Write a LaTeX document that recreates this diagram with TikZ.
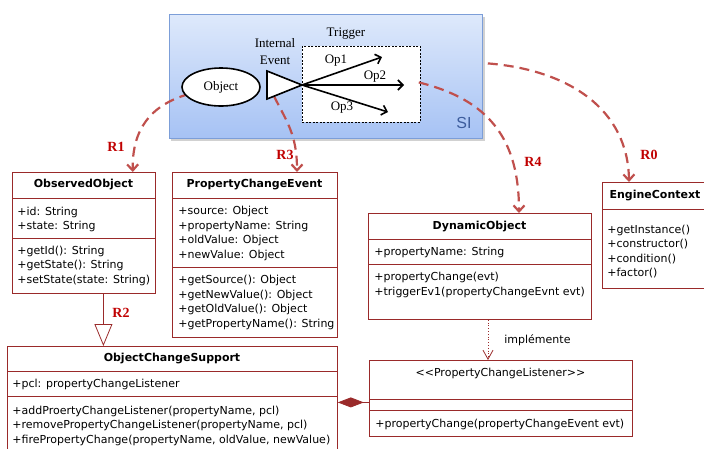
\documentclass[tikz,border=0pt]{standalone}
\usepackage{fontspec}
\setmainfont{Liberation Serif}
\newfontfamily\umlfont{DejaVu Sans}
\newfontfamily\sifont{Liberation Sans}
\usetikzlibrary{arrows.meta, positioning, calc, shapes.geometric}
\definecolor{umlRed}{HTML}{9A2A2A}
\definecolor{relRed}{HTML}{C0504D}
\definecolor{relText}{HTML}{C00000}
\definecolor{siTop}{HTML}{DEE9FB}
\definecolor{siBot}{HTML}{A6C2F4}
\definecolor{siLine}{HTML}{7C9ED8}
\definecolor{siText}{HTML}{3C5C9C}
\newcommand\umltxt{\umlfont\fontsize{11}{14.5}\selectfont}

\begin{document}
\begin{tikzpicture}[x=1pt, y=-1pt, thick,
    umlbox/.style={draw=umlRed, line width=0.8pt, anchor=north west, inner sep=0pt},
    umltitle/.style={font=\umltxt\bfseries, inner sep=0pt},
    umltext/.style={font=\umltxt, align=left, anchor=north west, inner sep=0pt},
    umlsep/.style={umlRed, line width=0.8pt},
    relation/.style={relRed, line width=2.2pt, dash pattern=on 10pt off 6pt,
                     -{Straight Barb[length=6pt, width=11pt]}},
    rellabel/.style={text=relText, font=\fontsize{14}{16}\selectfont\bfseries},
    oparrow/.style={line width=1.6pt, -{Straight Barb[length=5pt, width=10pt]}},
    serif/.style={font=\fontsize{13}{17}\selectfont, inner sep=0pt}]
  \useasboundingbox (0,0) rectangle (704,448);
  \clip (0,0) rectangle (704,448);

  % SI block with the trigger
  \fill[black!18] (171,17) rectangle (485,141);
  \node[draw=siLine, top color=siTop, bottom color=siBot, line width=0.8pt,
        minimum width=313pt, minimum height=124pt, anchor=north west,
        inner sep=0pt] (si) at (169,14) {};
  \node[font=\sifont\fontsize{16}{16}\selectfont, text=siText] (silabel) at (464,123) {SI};
  \node[draw, dash pattern=on 2pt off 1.5pt, line width=0.8pt, fill=white,
        minimum width=118pt, minimum height=76pt, anchor=north west,
        inner sep=0pt] (trig) at (302,46) {};
  \node[serif] (triglabel) at (346,34) {Trigger};
  \node[serif, align=center] (evtlabel) at (275,52) {Internal\\Event};

  % ObservedObject
  \node[umlbox, minimum width=143pt, minimum height=121pt] (obs) at (12,172) {};
  \node[umltitle] (obstitle) at (83.5,185) {ObservedObject};
  \draw[umlsep] (12,198) -- (155,198);
  \draw[umlsep] (12,238) -- (155,238);
  \node[umltext] (obsattr) at (17,206.5) {+id: String\\+state: String};
  \node[umltext] (obsops) at (17,245.5)
    {+getId(): String\\+getState(): String\\+setState(state: String)};

  % PropertyChangeEvent
  \node[umlbox, minimum width=165pt, minimum height=165pt] (pce) at (172,172) {};
  \node[umltitle] (pcetitle) at (254.5,185) {PropertyChangeEvent};
  \draw[umlsep] (172,198) -- (337,198);
  \draw[umlsep] (172,267) -- (337,267);
  \node[umltext] (pceattr) at (178,206)
    {+source: Object\\+propertyName: String\\+oldValue: Object\\+newValue: Object};
  \node[umltext] (pceops) at (178,275)
    {+getSource(): Object\\+getNewValue(): Object\\+getOldValue(): Object\\+getPropertyName(): String};

  % DynamicObject
  \node[umlbox, minimum width=223pt, minimum height=106pt] (dyn) at (368,213) {};
  \node[umltitle] (dyntitle) at (479.5,226.5) {DynamicObject};
  \draw[umlsep] (368,239) -- (591,239);
  \draw[umlsep] (368,264) -- (591,264);
  \node[umltext] (dynattr) at (374,247) {+propertyName: String};
  \node[umltext] (dynops) at (374,272)
    {+propertyChange(evt)\\+triggerEv1(propertyChangeEvnt evt)};

  % EngineContext
  \node[umlbox, minimum width=122pt, minimum height=106pt] (eng) at (602,182) {};
  \node[umltitle] (engtitle) at (655,196) {EngineContext};
  \draw[umlsep] (602,209) -- (724,209);
  \node[umltext] (engops) at (607,224.5)
    {+getInstance()\\+constructor()\\+condition()\\+factor()};

  % ObjectChangeSupport
  \node[umlbox, minimum width=330pt, minimum height=120pt] (ocs) at (7,346) {};
  \node[umltitle] (ocstitle) at (172,358.5) {ObjectChangeSupport};
  \draw[umlsep] (7,371) -- (337,371);
  \draw[umlsep] (7,396) -- (337,396);
  \node[umltext] (ocsattr) at (12,379) {+pcl: propertyChangeListener};
  \node[umltext] (ocsops) at (12,405.5)
    {+addProertyChangeListener(propertyName, pcl)\\+removePropertyChangeListener(propertyName, pcl)\\+firePropertyChange(propertyName, oldValue, newValue)};

  % PropertyChangeListener
  \node[umlbox, minimum width=263pt, minimum height=76pt] (pcl) at (369,360) {};
  \node[font=\umltxt, inner sep=0pt] (pcltitle) at (500.5,373) {<{}<PropertyChangeListener>{}>};
  \draw[umlsep] (369,399) -- (632,399);
  \draw[umlsep] (369,410) -- (632,410);
  \node[umltext] (pclops) at (375,419) {+propertyChange(propertyChangeEvent evt)};

  % relations leaving the SI block (drawn under the shapes)
  \coordinate (evt-a) at (267,71);
  \coordinate (evt-b) at (267,99);
  \coordinate (evt) at (302,85);
  \draw[relation] (189,94)
    .. controls (150,105) and (132,130) .. ($(obs.north east)+(-23,0)$);
  \draw[relation] ($(evt-b)!0.2!(evt)$)
    .. controls (287,122) and (297,135) .. ($(pce.north west)+(125,0)$);
  \draw[relation] ($(trig.east)+(-2,-2)$)
    .. controls (490,100) and (519,140) .. ($(dyn.north west)+(151,0)$);
  \draw[relation] ($(si.east)+(5,-13)$)
    .. controls (570,70) and (628,110) .. ($(eng.north west)+(27,0)$);

  \node[rellabel] (r1) at (116,147) {R1};
  \node[rellabel] (r3) at (285,155) {R3};
  \node[rellabel] (r4) at (533,162) {R4};
  \node[rellabel] (r0) at (649,155) {R0};

  % object and internal event
  \node[draw, ellipse, line width=1.6pt, fill=white, minimum width=78pt,
        minimum height=38pt, inner sep=0pt, font=\fontsize{13}{15}\selectfont]
        (obj) at (221,87) {Object};
  \draw[line width=1.6pt, fill=white] (evt-a) -- (evt) -- (evt-b) -- cycle;

  \coordinate (op1) at (382,57);
  \coordinate (op2) at (404,85);
  \coordinate (op3) at (388,112);
  \draw[oparrow] (evt) -- (op1);
  \draw[oparrow] (evt) -- (op2);
  \draw[oparrow] (evt) -- (op3);
  \node[serif] (op1label) at (336,61) {Op1};
  \node[serif] (op2label) at (375,77) {Op2};
  \node[serif] (op3label) at (342,108) {Op3};

  % UML links
  \draw[umlsep, -{Triangle[open, length=22pt, width=18pt]}]
    ($(obs.south)+(19.5,0)$) coordinate (r2s) -- (r2s |- ocs.north);
  \node[rellabel] (r2) at (121,313) {R2};
  \draw[umlsep, -{Diamond[length=26pt, width=10pt]}]
    ($(pcl.west)+(0,4)$) coordinate (cmp) -- (cmp -| ocs.east);
  \draw[umlsep, dotted, -{Straight Barb[length=9pt, width=10pt]}]
    ($(dyn.south west)+(120,0)$) coordinate (impl) -- (impl |- pcl.north)
    node[midway, right=16pt, font=\umltxt, text=black, inner sep=0pt] (impllabel) {implémente};
\end{tikzpicture}
\end{document}
